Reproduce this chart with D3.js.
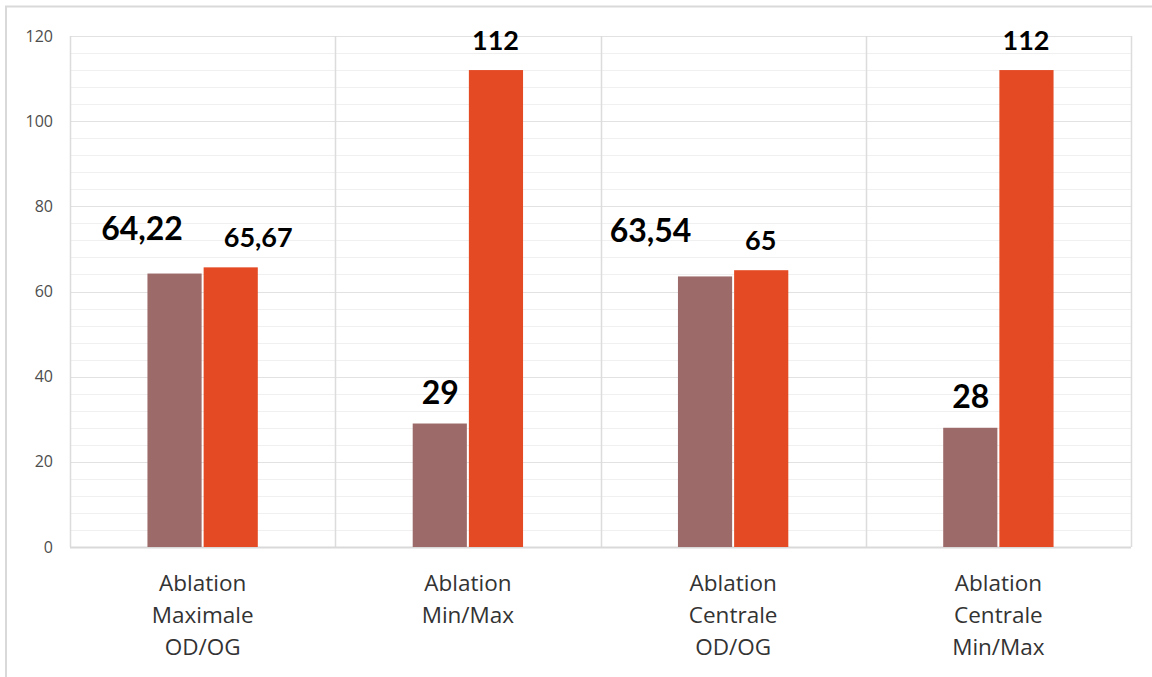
<!DOCTYPE html>
<html>
<head>
<meta charset="utf-8">
<script src="https://cdn.jsdelivr.net/npm/d3@7"></script>
<style>
  html, body { margin: 0; padding: 0; background: #fff; }
  svg { display: block; font-family: "Open Sans", Lato, sans-serif; }
</style>
</head>
<body>
<svg id="chart" width="1152" height="677"></svg>
<script>
// Category labels (multi-line) and the two series plotted per category
const categories = [
  ["Ablation", "Maximale", "OD/OG"],
  ["Ablation", "Min/Max"],
  ["Ablation", "Centrale", "OD/OG"],
  ["Ablation", "Centrale", "Min/Max"]
];
const seriesA = [64.22, 29, 63.54, 28];
const seriesB = [65.67, 112, 65, 112];
const labelsA = ["64,22", "29", "63,54", "28"];
const labelsB = ["65,67", "112", "65", "112"];
const yTicks = [0, 20, 40, 60, 80, 100, 120];

const colors = ["#9c6b69", "#e44a24"];

const svg = d3.select("#chart");
const W = 1152, H = 677;
const m = { left: 70, right: 21, top: 36, bottom: 130 };
const plotW = W - m.left - m.right;
const plotH = H - m.top - m.bottom;

// Outer chart frame
svg.append("rect")
  .attr("x", 6).attr("y", 6.5)
  .attr("width", 1180).attr("height", 720)
  .attr("fill", "none").attr("stroke", "#d9d9d9").attr("stroke-width", 2);

const g = svg.append("g").attr("transform", `translate(${m.left},${m.top})`);

const x0 = d3.scaleBand().domain(d3.range(categories.length)).range([0, plotW]).padding(0);
const bw = x0.bandwidth();
const x1 = d3.scaleBand().domain([0, 1]).range([bw * 0.292, bw * 0.708]).padding(0);
const y = d3.scaleLinear().domain([0, 120]).range([plotH, 0]);

// Minor gridlines every 4 units
g.append("g").selectAll("line")
  .data(d3.range(0, 121, 4).filter(v => v % 20 !== 0))
  .join("line")
  .attr("x1", 0).attr("x2", plotW)
  .attr("y1", d => Math.round(y(d)) + 0.5).attr("y2", d => Math.round(y(d)) + 0.5)
  .attr("stroke", "#f0f0f0").attr("stroke-width", 1);

// Major gridlines
g.append("g").selectAll("line")
  .data(yTicks.filter(v => v > 0))
  .join("line")
  .attr("x1", 0).attr("x2", plotW)
  .attr("y1", d => Math.round(y(d)) + 0.5).attr("y2", d => Math.round(y(d)) + 0.5)
  .attr("stroke", "#e2e2e2").attr("stroke-width", 1);

// Category separators and plot frame
g.append("g").selectAll("line")
  .data(d3.range(categories.length + 1))
  .join("line")
  .attr("x1", d => Math.round(d * bw) + 0.5).attr("x2", d => Math.round(d * bw) + 0.5)
  .attr("y1", 0).attr("y2", plotH)
  .attr("stroke", "#dcdcdc").attr("stroke-width", 1.5);

// Bottom axis line
g.append("line")
  .attr("x1", 0).attr("x2", plotW)
  .attr("y1", plotH + 0.5).attr("y2", plotH + 0.5)
  .attr("stroke", "#d9d9d9").attr("stroke-width", 2);

// Y axis tick labels
const yAxis = d3.axisLeft(y).tickValues(yTicks).tickSize(0).tickPadding(17);
const ya = g.append("g").call(yAxis);
ya.select(".domain").remove();
ya.selectAll("text")
  .attr("fill", "#4d4d4d")
  .style("font-size", "16px")
  .style("font-family", "'Open Sans', Lato, sans-serif");

// Bars
const series = [seriesA, seriesB];
series.forEach((vals, si) => {
  g.append("g").selectAll("rect")
    .data(vals)
    .join("rect")
    .attr("x", (d, i) => x0(i) + x1(si) + (si === 0 ? 0 : 1))
    .attr("width", x1.bandwidth() - 1)
    .attr("y", d => y(d))
    .attr("height", d => plotH - y(d))
    .attr("fill", colors[si]);
});

// Value labels; the wider labels are nudged aside so they do not collide
const labelNudgeA = [[-33, -14], [0, 0], [-55, -14], [0, 0]];
const labelNudgeB = [[28, 0], [0, 0], [0, 0], [0, 0]];
const labelSets = [
  { vals: seriesA, texts: labelsA, nudge: labelNudgeA, size: 32 },
  { vals: seriesB, texts: labelsB, nudge: labelNudgeB, size: 27 }
];
labelSets.forEach((ls, si) => {
  g.append("g").selectAll("text")
    .data(ls.vals)
    .join("text")
    .attr("x", (d, i) => x0(i) + x1(si) + x1.bandwidth() / 2 + ls.nudge[i][0])
    .attr("y", (d, i) => y(d) - 20 + ls.nudge[i][1])
    .attr("text-anchor", "middle")
    .attr("font-weight", "bold")
    .attr("font-size", ls.size + "px")
    .attr("font-family", "Lato, 'Open Sans', sans-serif")
    .attr("fill", "#000")
    .text((d, i) => ls.texts[i]);
});

// Category labels
const cat = g.append("g").selectAll("text")
  .data(categories)
  .join("text")
  .attr("text-anchor", "middle")
  .attr("fill", "#333")
  .attr("font-size", "22.5px")
  .attr("transform", (d, i) => `translate(${x0(i) + bw / 2},${plotH + 44})`);
cat.selectAll("tspan")
  .data(d => d)
  .join("tspan")
  .attr("x", 0)
  .attr("dy", (d, j) => j === 0 ? 0 : 32)
  .text(d => d);
</script>
</body>
</html>
